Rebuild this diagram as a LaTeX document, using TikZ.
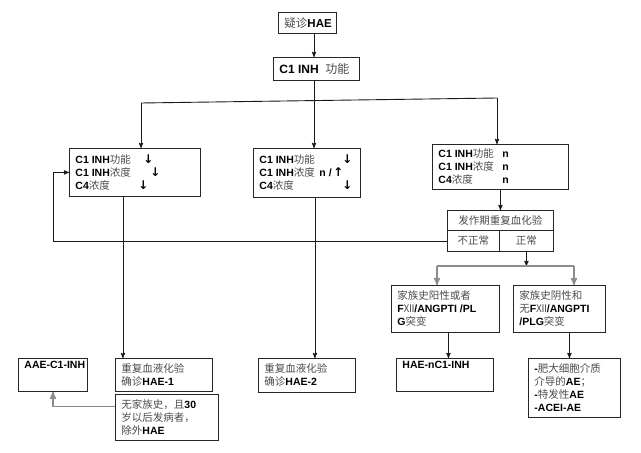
\documentclass[tikz,border=0pt]{standalone}
\usepackage{fontspec}
\setmainfont{Liberation Sans}
\newfontfamily\cjk{Noto Sans CJK SC}
\newfontfamily\sym{DejaVu Sans}
\usetikzlibrary{arrows}

\newcommand{\zh}[1]{{\cjk\mdseries\color{black!70}#1}}
\newcommand{\boxmid}[3]{\parbox[c][#2][c]{#1}{\raggedright\setlength{\leftskip}{6pt}#3}}
\newcommand{\boxtop}[3]{\parbox[c][#2][t]{#1}{\vspace*{3pt}\raggedright\setlength{\leftskip}{6pt}#3}}
\newcommand{\dn}{{\sym\bfseries\fontsize{12}{13}\selectfont ↓}}
\newcommand{\up}{{\sym\bfseries\fontsize{12}{13}\selectfont ↑}}

\tikzset{
  box/.style={draw=black!85, line width=0.9pt, anchor=north west, inner sep=0pt, align=left, font=\fontsize{10.5}{13}\selectfont\bfseries},
  cell/.style={draw=black!85, line width=0.9pt, anchor=north west, inner sep=0pt, font=\fontsize{10.5}{13}\selectfont},
  line/.style={draw=black!90, line width=0.9pt, >=stealth'},
  grayline/.style={draw=black!45, line width=1.5pt, >=stealth'}
}

\begin{document}
\begin{tikzpicture}[x=1pt,y=1pt,yscale=-1,xscale=1]
\useasboundingbox (0,0) rectangle (641,453);

% top
\node [box, font=\fontsize{11.5}{14}\selectfont\bfseries] (hae) at (278,12) {\boxmid{58pt}{21pt}{\zh{疑诊}HAE}};
\node [box, font=\fontsize{12}{14}\selectfont\bfseries] (func) at (273,57) {\boxmid{86pt}{23pt}{C1 INH \ \zh{功能}}};

% three results
\node [box] (low) at (69,148) {\boxmid{131pt}{48pt}{%
  \makebox[68pt][l]{C1 INH\zh{功能}}\dn\\
  \makebox[75pt][l]{C1 INH\zh{浓度}}\dn\\
  \makebox[63pt][l]{C4\zh{浓度}}\dn}};
\node [box] (dys) at (253,148) {\boxmid{107pt}{49pt}{%
  \makebox[83pt][l]{C1 INH\zh{功能}}\dn\\
  \makebox[60pt][l]{C1 INH\zh{浓度}}n /\,\up\\
  \makebox[83pt][l]{C4\zh{浓度}}\dn}};
\node [box] (norm3) at (432,144) {\boxmid{136pt}{45pt}{%
  \makebox[64pt][l]{C1 INH\zh{功能}}n\\
  \makebox[64pt][l]{C1 INH\zh{浓度}}n\\
  \makebox[64pt][l]{C4\zh{浓度}}n}};

% repeated test
\node [cell, minimum width=106pt, minimum height=20pt] (test) at (447,210) {\zh{发作期重复血化验}};
\node [cell, minimum width=52pt, minimum height=21pt] (abn) at (447,230) {\zh{不正常}};
\node [cell, minimum width=54pt, minimum height=21pt] (ok) at (499,230) {\zh{正常}};

% family history
\node [box] (famp) at (391,285) {\boxmid{108pt}{47pt}{\zh{家族史阳性或者}\\F\zh{Ⅻ}/ANGPTI /PL\\G\zh{突变}}};
\node [box] (famn) at (513,285) {\boxmid{92pt}{47pt}{\zh{家族史阴性和}\\\zh{无}F\zh{Ⅻ}/ANGPTI\\/PLG\zh{突变}}};

% bottom row
\node [box] (aae) at (18,358) {\boxtop{69pt}{33pt}{AAE-C1-INH}};
\node [box] (hae1) at (115,358) {\boxmid{97pt}{33pt}{\zh{重复血液化验}\\\zh{确诊}HAE-1}};
\node [box] (excl) at (115,394) {\boxmid{103pt}{46pt}{\zh{无家族史，且}30\\\zh{岁以后发病者，}\\\zh{除外}HAE}};
\node [box] (hae2) at (258,358) {\boxmid{97pt}{34pt}{\zh{重复血液化验}\\\zh{确诊}HAE-2}};
\node [box] (nc1) at (396,358) {\boxtop{97pt}{33pt}{HAE-nC1-INH}};
\node [box] (mast) at (528,358) {\boxmid{92pt}{59pt}{-\zh{肥大细胞介质}\\\zh{介导的}AE\zh{；}\\-\zh{特发性}AE\\-ACEI-AE}};

% connectors
\coordinate (axis) at (314,0);
\coordinate (hubL) at (141,103);
\coordinate (hubR) at (497,98);
\coordinate (fb) at (53,240);
\coordinate (splitL) at (437,266);
\coordinate (splitR) at (574,266);

\draw [line,->] (hae.south -| axis) -- (func.north -| axis);
\draw [line,->] (func.south -| axis) -- (dys.north -| axis);
\draw [line] (hubL) -- (hubR);
\draw [line,->] (hubL) -- (hubL |- low.north);
\draw [line,->] (hubR) -- (hubR |- norm3.north);
\draw [line,->] (norm3.south) -- (norm3.south |- test.north);
\draw [line,->] (abn.west) -- (abn.west -| fb) |- (low.west);
\draw [line,->] ([xshift=-12pt]low.south) -- ([xshift=-12pt]low.south |- hae1.north);
\draw [line,->] ([xshift=8pt]dys.south) -- ([xshift=8pt]dys.south |- hae2.north);
\draw [line,->] (ok.south) -- (ok.south |- splitR);
\draw [grayline] (splitL) -- (splitR);
\draw [grayline,->] (splitL) -- (splitL |- famp.north);
\draw [grayline,->] (splitR) -- (splitR |- famn.north);
\draw [line,->] ([xshift=3pt]famp.south) -- ([xshift=3pt]famp.south |- nc1.north);
\draw [line,->] ([xshift=10pt]famn.south) -- ([xshift=10pt]famn.south |- mast.north);
\draw [grayline,->] ([yshift=-11pt]excl.west) -| (aae.south);

\end{tikzpicture}
\end{document}
